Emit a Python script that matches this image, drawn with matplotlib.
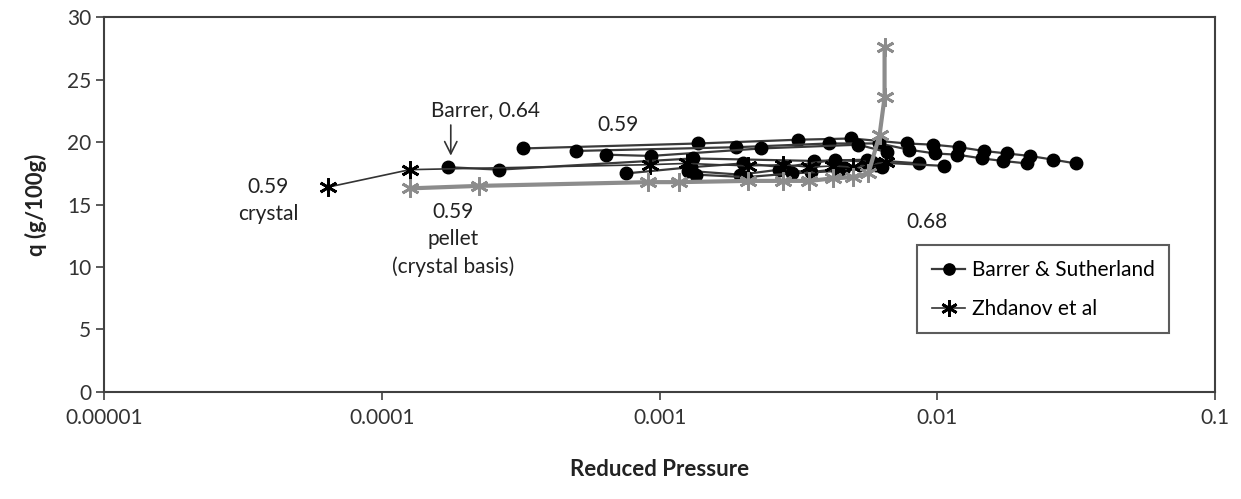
import numpy as np
import matplotlib.pyplot as plt

plt.rcParams['font.family'] = ['Lato', 'DejaVu Sans']

# Barrer & Sutherland isotherms (reduced pressure, q g/100g)
b1_p = [3.22e-4, 1.38e-3, 3.16e-3, 4.91e-3, 7.75e-3, 9.69e-3, 0.0120, 0.0147, 0.0178, 0.0215, 0.0262, 0.0315]
b1_q = [19.5, 19.9, 20.2, 20.3, 19.9, 19.8, 19.6, 19.3, 19.1, 18.9, 18.6, 18.3]
b2_p = [5.0e-4, 1.89e-3, 4.08e-3, 6.19e-3, 7.9e-3, 9.8e-3, 0.0118, 0.0145, 0.0172, 0.0210]
b2_q = [19.3, 19.6, 19.9, 19.9, 19.4, 19.1, 19.0, 18.7, 18.5, 18.3]
b3_p = [6.4e-4, 9.3e-4, 2.32e-3, 5.2e-3, 6.6e-3]
b3_q = [19.0, 18.9, 19.5, 19.8, 19.2]
b4_p = [1.73e-4, 2.64e-4, 1.32e-3, 3.6e-3, 5.6e-3, 8.6e-3]
b4_q = [18.0, 17.8, 18.7, 18.5, 18.6, 18.3]
b5_p = [7.6e-4, 1.30e-3, 2.0e-3, 2.8e-3, 4.3e-3, 5.8e-3, 0.0106]
b5_q = [17.5, 18.0, 18.3, 18.0, 18.6, 18.4, 18.1]
b6_p = [1.27e-3, 1.95e-3, 2.7e-3, 3.5e-3, 4.6e-3, 6.0e-3]
b6_q = [17.7, 17.4, 17.8, 17.6, 17.9, 18.2]
b7_p = [1.35e-3, 2.05e-3, 3.0e-3, 4.4e-3, 6.3e-3]
b7_q = [17.4, 17.2, 17.5, 17.7, 18.0]
barrer = [(b1_p, b1_q), (b2_p, b2_q), (b3_p, b3_q), (b4_p, b4_q),
          (b5_p, b5_q), (b6_p, b6_q), (b7_p, b7_q)]

# Zhdanov et al, crystal 0.59
zc_p = [6.4e-5, 1.26e-4, 9.2e-4, 1.25e-3, 2.09e-3, 2.79e-3, 3.46e-3, 4.22e-3, 4.99e-3, 5.65e-3, 6.56e-3]
zc_q = [16.4, 17.8, 18.2, 18.3, 18.1, 18.2, 18.0, 18.1, 18.0, 18.2, 18.4]
# Zhdanov et al, pellet 0.59 (crystal basis)
zp_p = [1.26e-4, 2.24e-4, 9.1e-4, 1.17e-3, 2.09e-3, 2.79e-3, 3.46e-3, 4.2e-3, 4.99e-3, 5.65e-3, 6.2e-3, 6.46e-3, 6.46e-3]
zp_q = [16.3, 16.5, 16.8, 16.8, 16.9, 16.9, 16.9, 17.1, 17.2, 17.5, 20.6, 23.6, 27.6]

star = (6, 2, 0)

fig = plt.figure(figsize=(12.41, 4.99), dpi=100)
ax = fig.add_axes([0.084, 0.215, 0.895, 0.750])

for i, (p, q) in enumerate(barrer):
    ax.plot(p, q, color='#3a3a3a', lw=1.6, marker='o', ms=9, mfc='black', mec='black',
            label='Barrer & Sutherland' if i == 0 else None, zorder=3)

ax.plot(zc_p, zc_q, color='#333333', lw=1.2, marker=star, ms=13, mec='black', mew=2.0,
        label='Zhdanov et al', zorder=4)
ax.plot(zp_p, zp_q, color='#8c8c8c', lw=3, marker=star, ms=13, mec='#8c8c8c', mew=2.0, zorder=5)

ax.set_xscale('log')
ax.set_xlim(1e-5, 0.1)
ax.set_ylim(0, 30)
ax.set_yticks(range(0, 31, 5))
ax.set_xticks([1e-5, 1e-4, 1e-3, 1e-2, 1e-1])
ax.set_xticklabels(['0.00001', '0.0001', '0.001', '0.01', '0.1'])
ax.minorticks_off()
ax.tick_params(direction='out', length=6, width=1.2, colors='#404040', labelsize=15,
               labelcolor='#333333')
ax.tick_params(axis='x', pad=6)
for s in ax.spines.values():
    s.set_color('#404040')
    s.set_linewidth(1.5)

ax.set_ylabel('q (g/100g)', fontsize=16, fontweight='bold', color='#222222', labelpad=14)
ax.set_xlabel('Reduced Pressure', fontsize=16, fontweight='bold', color='#222222', labelpad=22)

tc = '#222222'
ax.text(1.5e-4, 22.6, 'Barrer, 0.64', fontsize=15, color=tc, va='center', ha='left')
ax.annotate('', xy=(1.77e-4, 18.7), xytext=(1.77e-4, 21.6),
            arrowprops=dict(arrowstyle='->', color='#333333', lw=1.2, mutation_scale=22))
ax.text(7.1e-4, 21.4, '0.59', fontsize=15, color=tc, ha='center', va='center')
ax.text(3.9e-5, 15.3, '0.59\ncrystal', fontsize=15, color=tc, ha='center', va='center', linespacing=1.45)
ax.text(1.8e-4, 12.2, '0.59\npellet\n(crystal basis)', fontsize=15, color=tc, ha='center',
        va='center', linespacing=1.45)
ax.text(9.2e-3, 13.6, '0.68', fontsize=15, color=tc, ha='center', va='center')

leg = ax.legend(loc='lower right', bbox_to_anchor=(0.968, 0.128), fontsize=15, frameon=True,
                fancybox=False, edgecolor='#333333', handlelength=1.6, handletextpad=0.3,
                labelspacing=0.9, borderpad=0.7, markerscale=0.9)
leg.get_frame().set_linewidth(1.5)

fig.savefig('out.png', dpi=100)
